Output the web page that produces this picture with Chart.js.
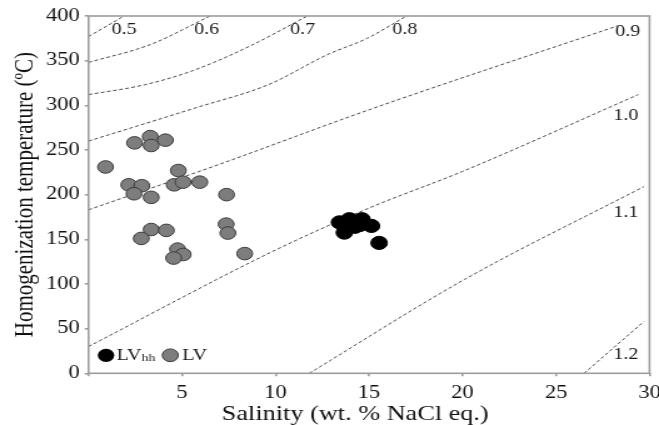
<!DOCTYPE html>
<html>
<head>
<meta charset="utf-8">
<script src="https://cdn.jsdelivr.net/npm/chart.js@4"></script>
<style>
    html, body { margin: 0; padding: 0; background: #fff; overflow: hidden; }
    /* la figura original viene estirada en horizontal */
    #marco { width: 527px; height: 425px; transform: scaleX(1.2505); transform-origin: 0 0; }
</style>
</head>
<body>
<div id="marco"><canvas id="grafico"></canvas></div>
<script>
// Inclusiones LV (gris)
const salinidadLV = [2.46, 3.30, 4.11, 3.35, 0.91, 4.80, 2.15, 2.85, 2.43, 3.35, 4.58, 5.05,
    5.95, 7.38, 3.35, 4.16, 2.82, 7.36, 7.45, 4.76, 5.06, 4.55, 8.35];
const temperaturaLV = [258, 265, 261, 255, 231, 227, 211, 210, 201, 197, 211, 214,
    214, 200, 161, 160, 151, 167, 157, 139, 133, 129, 134];

// Inclusiones LVhh (negro)
const salinidadLVhh = [13.42, 13.95, 14.62, 15.13, 13.68, 14.24, 14.50, 15.54];
const temperaturaLVhh = [169, 172.5, 172.5, 165, 157.5, 164, 166, 146];

// Isocoras (densidad en g/cm3)
const densidades = ['0.5', '0.6', '0.7', '0.8', '0.9', '1.0', '1.1', '1.2'];
const isocoraSal = [
    [0, 1.9],
    [0, 3.3, 6.5],
    [0, 3, 5.6, 8.6, 11.7],
    [0, 5.7, 9.6, 12.8, 14.9, 17],
    [0, 7, 15, 28.3],
    [0, 10, 15, 20, 29.4],
    [11.8, 20.1, 29.7],
    [26.5, 29.7]
];
const isocoraTem = [
    [377, 400],
    [348, 368, 400],
    [312, 323, 339, 366, 400],
    [260, 297, 323, 357, 375, 400],
    [183, 234, 295, 389],
    [30, 138, 185, 226, 312],
    [0, 105, 209],
    [0, 58]
];
// donde va el rotulo de cada isocora
const etiquetaSal = [1.23, 5.64, 10.78, 16.24, 28.17, 28.06, 28.06, 28.06];
const etiquetaTem = [385, 385, 385, 384, 382, 288, 180, 21];

const ticksX = [0, 5, 10, 15, 20, 25, 30];
const ticksY = [0, 50, 100, 150, 200, 250, 300, 350, 400];

const tituloX = 'Salinity (wt. % NaCl eq.)';
const tituloY = 'Homogenization temperature (ºC)';

const fuente = '"Liberation Serif", "Times New Roman", serif';

const puntos = (xs, ys) => xs.map((v, i) => ({ x: v, y: ys[i] }));

const lineas = densidades.map((d, i) => ({
    label: d,
    data: puntos(isocoraSal[i], isocoraTem[i]),
    showLine: true,
    pointRadius: 0,
    borderColor: '#4a4a4a',
    borderWidth: 1,
    borderDash: [3, 2],
    cubicInterpolationMode: 'monotone',
    order: 2
}));

// Marco, rotulos de densidad, titulo X y leyenda
const decoracion = {
    id: 'decoracion',
    afterDatasetsDraw(chart) {
        const { ctx, chartArea: a, scales: { x, y } } = chart;
        ctx.save();
        ctx.strokeStyle = '#9c9c9c';
        ctx.lineWidth = 1.6;
        ctx.strokeRect(a.left, a.top, a.right - a.left, a.bottom - a.top);

        ctx.fillStyle = '#1a1a1a';
        ctx.font = '16px ' + fuente;
        ctx.textAlign = 'left';
        ctx.textBaseline = 'middle';
        densidades.forEach((d, i) => {
            ctx.fillText(d, x.getPixelForValue(etiquetaSal[i]), y.getPixelForValue(etiquetaTem[i]));
        });

        // titulo del eje X (en el original va algo corrido a la izquierda)
        ctx.fillStyle = '#111';
        ctx.font = '21px ' + fuente;
        ctx.textAlign = 'center';
        ctx.fillText(tituloX, (a.left + a.right) / 2 - 11, chart.height - 11);

        // leyenda
        ctx.textAlign = 'left';
        const ly = a.bottom - 18;
        let lx = a.left + 14;
        ctx.beginPath();
        ctx.arc(lx, ly, 6.6, 0, Math.PI * 2);
        ctx.fillStyle = '#000';
        ctx.fill();
        lx += 8.5;
        ctx.fillStyle = '#1a1a1a';
        ctx.font = '16px ' + fuente;
        ctx.fillText('LV', lx, ly);
        lx += ctx.measureText('LV').width;
        ctx.font = '11px ' + fuente;
        ctx.fillText('hh', lx, ly + 3);
        lx += ctx.measureText('hh').width + 12;
        ctx.beginPath();
        ctx.arc(lx, ly, 6.4, 0, Math.PI * 2);
        ctx.fillStyle = '#7d7d7d';
        ctx.fill();
        ctx.strokeStyle = '#3c3c3c';
        ctx.lineWidth = 1;
        ctx.stroke();
        lx += 9.5;
        ctx.fillStyle = '#1a1a1a';
        ctx.font = '16px ' + fuente;
        ctx.fillText('LV', lx, ly);
        ctx.restore();
    }
};

const ctx = document.getElementById('grafico').getContext('2d');
new Chart(ctx, {
    type: 'scatter',
    data: {
        datasets: [
            ...lineas,
            {
                label: 'LV',
                data: puntos(salinidadLV, temperaturaLV),
                backgroundColor: '#7d7d7d',
                borderColor: '#3c3c3c',
                borderWidth: 1,
                pointRadius: 6.3,
                order: 1
            },
            {
                label: 'LVhh',
                data: puntos(salinidadLVhh, temperaturaLVhh),
                backgroundColor: '#000',
                borderColor: '#000',
                borderWidth: 1,
                pointRadius: 6.6,
                order: 0
            }
        ]
    },
    options: {
        responsive: true,
        maintainAspectRatio: false,
        animation: false,
        events: [],
        layout: { padding: { top: 16, right: 3.6, bottom: 0, left: 0 } },
        plugins: { legend: { display: false }, tooltip: { enabled: false } },
        scales: {
            x: {
                type: 'linear',
                min: 0,
                max: 30,
                afterBuildTicks: (s) => { s.ticks = ticksX.map(v => ({ value: v })); },
                ticks: {
                    callback: (v) => v === 0 ? '' : v,
                    color: '#111',
                    padding: 6,
                    maxRotation: 0,
                    font: { family: fuente, size: 18 }
                },
                grid: { drawOnChartArea: false, drawTicks: true, tickLength: 3, color: '#9c9c9c', lineWidth: 1.6 },
                border: { display: false },
                title: { display: false },
                afterFit: (s) => { s.height = 51.7; s.paddingLeft = 0; s.paddingRight = 0; }
            },
            y: {
                type: 'linear',
                min: 0,
                max: 400,
                afterBuildTicks: (s) => { s.ticks = ticksY.map(v => ({ value: v })); },
                ticks: {
                    color: '#111',
                    padding: 4,
                    font: { family: fuente, size: 18 }
                },
                grid: { drawOnChartArea: false, drawTicks: true, tickLength: 3, color: '#9c9c9c', lineWidth: 1.6 },
                border: { display: false },
                title: {
                    display: true,
                    text: tituloY,
                    color: '#111',
                    font: { family: fuente, size: 21, lineHeight: 1 },
                    padding: { top: 10, bottom: 0 }
                },
                afterFit: (s) => { s.width = 70.8; s.paddingTop = 0; s.paddingBottom = 0; }
            }
        }
    },
    plugins: [decoracion]
});
</script>
</body>
</html>
